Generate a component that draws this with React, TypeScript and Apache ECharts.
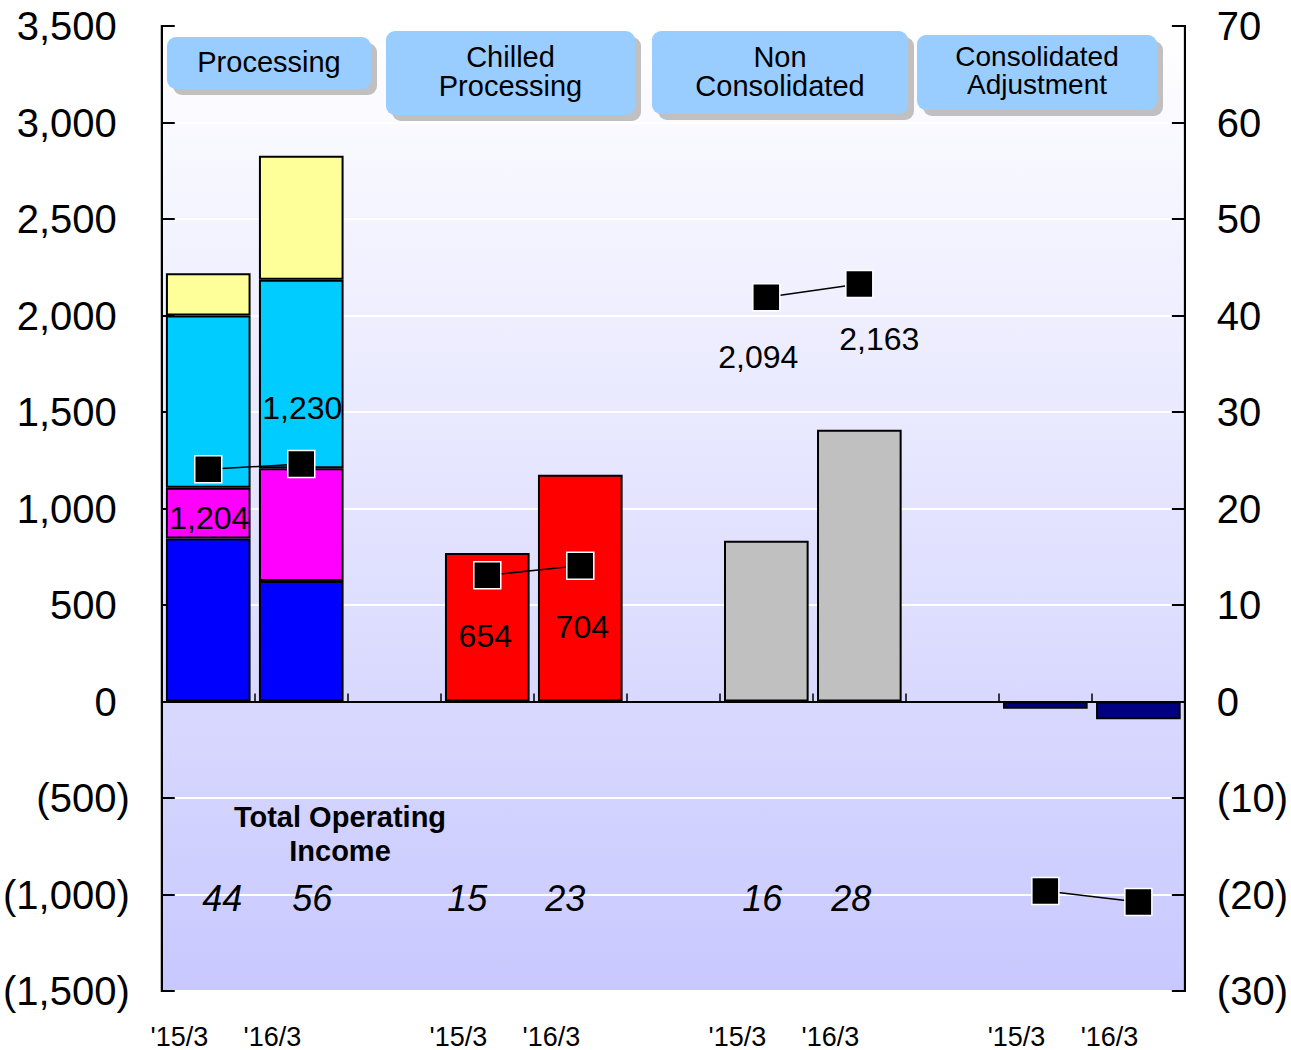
import React, { useEffect, useRef } from "react";
import * as echarts from "echarts";

// ---- data ----
const categories = ["P15", "P16", "g1", "C15", "C16", "g2", "N15", "N16", "g3", "A15", "A16"];
const xTickLabels = ["'15/3", "'16/3", "", "'15/3", "'16/3", "", "'15/3", "'16/3", "", "'15/3", "'16/3"];
const groupIdx = [[0, 1], [3, 4], [6, 7], [9, 10]];

const procBlue = [844, 625];
const procMagenta = [264, 583];
const procCyan = [892, 977];
const procYellow = [219, 643];
const chilledRed = [770, 1175];
const nonConsGray = [833, 1408];
const consAdjNavy = [-37, -92];

const lineProcessing = [1204, 1230];
const lineChilled = [654, 704];
const lineNonCons = [2094, 2163];
const lineConsAdj = [-982, -1039];

const totalOpIncome = [44, 56, 15, 23, 16, 28];
const totalOpIncomeIdx = [0, 1, 3, 4, 6, 7];

const leftTicks = { min: -1500, max: 3500, interval: 500 };
const rightTicks = { min: -30, max: 70, interval: 10 };

const headers = ["Processing", "Chilled\nProcessing", "Non\nConsolidated", "Consolidated\nAdjustment"];

// ---- helpers ----
const FONT = "'Liberation Sans', Arial, sans-serif";
const place = (vals: number[], idx: number[]) => {
  const arr: any[] = categories.map(() => "-");
  idx.forEach((c, i) => (arr[c] = vals[i]));
  return arr;
};
const fmt = (v: number) => Math.abs(v).toLocaleString("en-US");

export default function App() {
  const ref = useRef<HTMLDivElement>(null);
  useEffect(() => {
    document.body.style.margin = "0";
    if (!ref.current) return;
    const chart = echarts.init(ref.current, undefined, { renderer: "svg" });

    const barSeries = (name: string, vals: number[], idx: number[], color: string) => ({
      name,
      type: "bar",
      stack: "total",
      xAxisIndex: 0,
      yAxisIndex: 0,
      barCategoryGap: "9%",
      data: place(vals, idx),
      itemStyle: { color, borderColor: "#000", borderWidth: 2 },
    });

    const lineLabelOffsets = [
      [[1, 49], [1, -56]],
      [[-2, 61], [2, 61]],
      [[-8, 60], [20, 55]],
      null,
    ];

    const lineSeries = (vals: number[], idx: number[], offs: any) => ({
      type: "line",
      xAxisIndex: 0,
      yAxisIndex: 0,
      symbol: "rect",
      symbolSize: 27,
      z: 5,
      lineStyle: { color: "#000", width: 1.5 },
      itemStyle: { color: "#000", borderColor: "#fff", borderWidth: 1.5 },
      data: categories.map((_, c) => {
        const k = idx.indexOf(c);
        if (k < 0) return "-";
        return {
          value: vals[k],
          label: offs
            ? {
                show: true,
                position: "inside",
                offset: offs[k],
                formatter: (p: any) => Number(p.value).toLocaleString("en-US"),
                fontSize: 32,
                color: "#000",
                fontFamily: FONT,
              }
            : { show: false },
        };
      }),
    });

    const incomeOffsets = [[14, 4], [11, 4], [-20, 4], [-15, 4], [-4, 4], [-8, 4]];

    const headerBoxes = [
      { x: 167, y: 37, w: 204, h: 52, ty: 62 },
      { x: 386, y: 31, w: 249, h: 84, ty: 71 },
      { x: 652, y: 31, w: 256, h: 83, ty: 71 },
      { x: 917, y: 35, w: 240, h: 75, ty: 70 },
    ];

    const graphic: any[] = [];
    headerBoxes.forEach((b, i) => {
      graphic.push({
        type: "rect",
        shape: { x: b.x + 6, y: b.y + 6, width: b.w, height: b.h, r: 9 },
        style: { fill: "#c0c0c0" },
        z: 10,
      });
      graphic.push({
        type: "rect",
        shape: { x: b.x, y: b.y, width: b.w, height: b.h, r: 9 },
        style: { fill: "#99ccff" },
        z: 11,
      });
      graphic.push({
        type: "text",
        x: b.x + b.w / 2,
        y: b.ty,
        z: 12,
        style: {
          text: headers[i],
          fill: "#000",
          font: `${i === 3 ? 28 : 29}px ${FONT}`,
          textAlign: "center",
          textVerticalAlign: "middle",
          lineHeight: i === 3 ? 28 : 29,
        },
      });
    });
    graphic.push({
      type: "text",
      x: 340,
      y: 834,
      z: 12,
      style: {
        text: "Total Operating\nIncome",
        fill: "#000",
        font: `bold 29px ${FONT}`,
        textAlign: "center",
        textVerticalAlign: "middle",
        lineHeight: 34,
      },
    });

    const option: any = {
      animation: false,
      textStyle: { fontFamily: FONT },
      grid: {
        left: 161,
        top: 26,
        width: 1024,
        height: 967,
        show: true,
        borderColor: "#000",
        borderWidth: 2,
        backgroundColor: {
          type: "linear",
          x: 0,
          y: 0,
          x2: 0,
          y2: 1,
          colorStops: [
            { offset: 0, color: "#ffffff" },
            { offset: 1, color: "#c8c8ff" },
          ],
        },
      },
      xAxis: [
        {
          type: "category",
          data: categories,
          position: "bottom",
          boundaryGap: true,
          axisLine: { onZero: true, lineStyle: { color: "#000", width: 2 } },
          axisTick: { show: true, inside: true, length: 8, interval: 0, lineStyle: { color: "#000", width: 1.5 } },
          axisLabel: { show: false },
          splitLine: { show: false },
          z: 3,
        },
        {
          type: "category",
          data: categories,
          position: "bottom",
          axisLine: { show: false, onZero: false },
          axisTick: { show: false },
          axisLabel: {
            show: true,
            interval: 0,
            align: "right",
            margin: 32,
            fontSize: 27,
            color: "#000",
            fontFamily: FONT,
            formatter: (_: string, i: number) => xTickLabels[i],
          },
          splitLine: { show: false },
        },
      ],
      yAxis: [
        {
          type: "value",
          position: "left",
          min: leftTicks.min,
          max: leftTicks.max,
          interval: leftTicks.interval,
          axisLine: { show: true, onZero: false, lineStyle: { color: "#000", width: 2 } },
          axisTick: { show: true, inside: true, length: 13, lineStyle: { color: "#000", width: 2 } },
          splitLine: { show: true, lineStyle: { color: "#ffffff", width: 2 } },
          axisLabel: {
            margin: 32,
            fontSize: 40,
            color: "#000",
            fontFamily: FONT,
            formatter: (v: number) => (v < 0 ? `(${fmt(v)})` : `${fmt(v)}{pad| }`),
            rich: { pad: { width: 13, fontSize: 40 } },
          },
        },
        {
          type: "value",
          position: "right",
          min: rightTicks.min,
          max: rightTicks.max,
          interval: rightTicks.interval,
          axisLine: { show: true, onZero: false, lineStyle: { color: "#000", width: 2 } },
          axisTick: { show: true, inside: true, length: 13, lineStyle: { color: "#000", width: 2 } },
          splitLine: { show: false },
          axisLabel: {
            margin: 32,
            fontSize: 40,
            color: "#000",
            fontFamily: FONT,
            formatter: (v: number) => (v < 0 ? `(${fmt(v)})` : `${fmt(v)}`),
          },
        },
      ],
      series: [
        barSeries("Processing 1", procBlue, groupIdx[0], "#0000ff"),
        barSeries("Processing 2", procMagenta, groupIdx[0], "#ff00ff"),
        barSeries("Processing 3", procCyan, groupIdx[0], "#00ccff"),
        barSeries("Processing 4", procYellow, groupIdx[0], "#ffff99"),
        barSeries("Chilled Processing", chilledRed, groupIdx[1], "#ff0000"),
        barSeries("Non Consolidated", nonConsGray, groupIdx[2], "#c0c0c0"),
        barSeries("Consolidated Adjustment", consAdjNavy, groupIdx[3], "#000080"),
        lineSeries(lineProcessing, groupIdx[0], lineLabelOffsets[0]),
        lineSeries(lineChilled, groupIdx[1], lineLabelOffsets[1]),
        lineSeries(lineNonCons, groupIdx[2], lineLabelOffsets[2]),
        lineSeries(lineConsAdj, groupIdx[3], lineLabelOffsets[3]),
        {
          type: "scatter",
          xAxisIndex: 0,
          yAxisIndex: 0,
          symbolSize: 0,
          silent: true,
          z: 6,
          itemStyle: { opacity: 1 },
          data: totalOpIncomeIdx.map((c, k) => ({
            value: [c, -1000],
            label: {
              show: true,
              position: "inside",
              offset: incomeOffsets[k],
              formatter: String(totalOpIncome[k]),
              fontSize: 36,
              fontStyle: "italic",
              color: "#000",
              opacity: 1,
              fontFamily: FONT,
            },
          })),
        },
      ],
      graphic,
    };

    chart.setOption(option);
    return () => chart.dispose();
  }, []);

  return <div ref={ref} style={{ width: 1291, height: 1050 }} />;
}
